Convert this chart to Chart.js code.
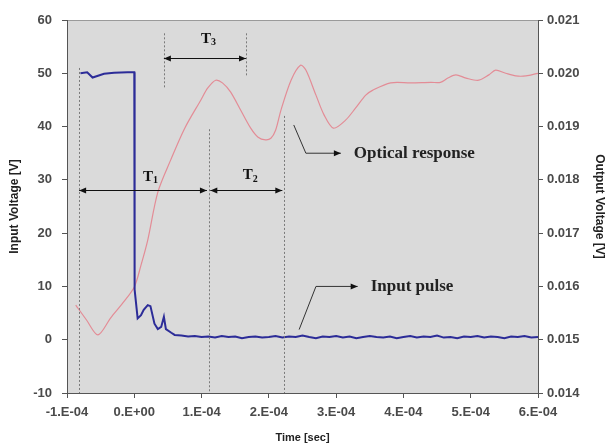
<!DOCTYPE html>
<html>
<head>
<meta charset="utf-8">
<script src="https://cdn.jsdelivr.net/npm/chart.js@4/dist/chart.umd.min.js"></script>
<style>
  html, body { margin: 0; padding: 0; background: #fff; }
  #wrap { width: 608px; height: 446px; position: relative; }
</style>
</head>
<body>
<div id="wrap"><canvas id="pulseChart"></canvas></div>
<script>
// input pulse (left axis, V) -- time in seconds
const pulseTime = [-0.80e-4, -0.70e-4, -0.62e-4, -0.55e-4, -0.45e-4, -0.30e-4, -0.10e-4, 0.00e-4, 0.005e-4,
  0.05e-4, 0.10e-4, 0.14e-4, 0.20e-4, 0.24e-4, 0.30e-4, 0.35e-4, 0.40e-4, 0.44e-4, 0.47e-4, 0.55e-4, 0.60e-4,
  0.7e-4, 0.8e-4, 0.9e-4, 1.0e-4, 1.1e-4, 1.2e-4, 1.3e-4, 1.4e-4, 1.5e-4, 1.6e-4, 1.7e-4, 1.8e-4, 1.9e-4,
  2.0e-4, 2.1e-4, 2.2e-4, 2.3e-4, 2.4e-4, 2.5e-4, 2.6e-4, 2.7e-4, 2.8e-4, 2.9e-4, 3.0e-4, 3.1e-4, 3.2e-4,
  3.3e-4, 3.4e-4, 3.5e-4, 3.6e-4, 3.7e-4, 3.8e-4, 3.9e-4, 4.0e-4, 4.1e-4, 4.2e-4, 4.3e-4, 4.4e-4, 4.5e-4,
  4.6e-4, 4.7e-4, 4.8e-4, 4.9e-4, 5.0e-4, 5.1e-4, 5.2e-4, 5.3e-4, 5.4e-4, 5.5e-4, 5.6e-4, 5.7e-4, 5.8e-4,
  5.9e-4, 6.0e-4];
const pulseVolt = [50.0, 50.2, 49.2, 49.5, 49.9, 50.1, 50.2, 50.2, 9.4,
  4.0, 4.6, 5.6, 6.5, 6.3, 3.0, 2.0, 2.4, 4.3, 2.0, 1.3, 0.9,
  0.8, 0.6, 0.7, 0.5, 0.6, 0.4, 0.7, 0.5, 0.6, 0.3, 0.5, 0.6, 0.4,
  0.5, 0.7, 0.4, 0.6, 0.5, 0.8, 0.5, 0.3, 0.6, 0.5, 0.7, 0.4, 0.6,
  0.3, 0.5, 0.7, 0.5, 0.4, 0.6, 0.3, 0.5, 0.7, 0.4, 0.6, 0.5, 0.8,
  0.4, 0.5, 0.3, 0.6, 0.5, 0.7, 0.4, 0.6, 0.5, 0.3, 0.6, 0.5, 0.7,
  0.4, 0.5];

// optical response (right axis, V)
const opticalTime = [-0.87e-4, -0.71e-4, -0.54e-4, -0.35e-4, -0.17e-4, 0.00e-4, 0.10e-4, 0.20e-4, 0.35e-4,
  0.54e-4, 0.75e-4, 0.99e-4, 1.09e-4, 1.21e-4, 1.31e-4, 1.43e-4, 1.58e-4, 1.73e-4,
  1.84e-4, 1.95e-4, 2.03e-4, 2.10e-4, 2.18e-4, 2.33e-4, 2.47e-4, 2.55e-4, 2.70e-4, 2.82e-4, 2.96e-4,
  3.14e-4, 3.29e-4, 3.44e-4, 3.54e-4, 3.81e-4, 4.11e-4, 4.41e-4, 4.55e-4, 4.66e-4, 4.78e-4, 4.93e-4,
  5.12e-4, 5.27e-4, 5.37e-4, 5.52e-4, 5.67e-4, 5.82e-4, 6.00e-4];
const opticalVolt = [0.01565, 0.01537, 0.01509, 0.01541, 0.01569, 0.01599, 0.01640, 0.01687, 0.01777,
  0.01837, 0.01897, 0.01950, 0.01972, 0.01987, 0.01982, 0.01965, 0.01931, 0.01897,
  0.01880, 0.01875, 0.01878, 0.01893, 0.01931, 0.01987, 0.02015, 0.02006, 0.01959, 0.01922, 0.01897,
  0.01912, 0.01935, 0.01959, 0.01968, 0.01982, 0.01982, 0.01983, 0.01983, 0.01991, 0.01997, 0.01991,
  0.01987, 0.01997, 0.02006, 0.02000, 0.01995, 0.01995, 0.02000];

// right axis tick labels as printed on the figure
const rightTicks = ["0.014", "0.015", "0.016", "0.017", "0.018", "0.019", "0.020", "0.021"];

// annotation geometry, in data units (time, left-axis volts)
const dottedLines = [
  [-0.82e-4, 51, -10], [0.44e-4, 57.5, 47], [1.66e-4, 57.5, 49.5],
  [1.11e-4, 39.5, -10], [2.22e-4, 42, -10]
];
const spanArrows = [
  { from: 0.44e-4, to: 1.66e-4, y: 52.8, label: "3", lx: 1.11e-4, ly: 56.5 },
  { from: -0.82e-4, to: 1.08e-4, y: 28.1, label: "1", lx: 0.25e-4, ly: 30.6 },
  { from: 1.13e-4, to: 2.20e-4, y: 28.1, label: "2", lx: 1.73e-4, ly: 30.8 }
];
const callouts = [
  { pts: [[2.37e-4, 40.3], [2.55e-4, 35], [3.07e-4, 35]], text: "Optical response" },
  { pts: [[2.45e-4, 1.9], [2.70e-4, 10], [3.32e-4, 10]], text: "Input pulse" }
];

const pulseData = pulseTime.map((t, i) => ({ x: t, y: pulseVolt[i] }));
const opticalData = opticalTime.map((t, i) => ({ x: t, y: opticalVolt[i] }));

function fmtTime(value) {
  const n = Math.round(value * 1e4);
  if (n === 0) return "0.E+00";
  return n + ".E-04";
}

function arrowHead(ctx, x, y, dir) {
  ctx.beginPath();
  ctx.moveTo(x, y);
  ctx.lineTo(x - dir * 7, y - 3);
  ctx.lineTo(x - dir * 7, y + 3);
  ctx.closePath();
  ctx.fill();
}

// grey plot background + top border
const plotBackground = {
  id: "plotBackground",
  beforeDraw(chart) {
    const { ctx, chartArea: a } = chart;
    ctx.save();
    ctx.fillStyle = "#dadada";
    ctx.fillRect(a.left, a.top, a.right - a.left, a.bottom - a.top);
    ctx.strokeStyle = "#9a9a9a";
    ctx.lineWidth = 1;
    ctx.beginPath();
    ctx.moveTo(a.left, a.top + 0.5);
    ctx.lineTo(a.right, a.top + 0.5);
    ctx.stroke();
    ctx.restore();
  }
};

// T1/T2/T3 markers and the two callouts
const annotations = {
  id: "annotations",
  afterDatasetsDraw(chart) {
    const ctx = chart.ctx;
    const xs = chart.scales.x, ys = chart.scales.y;
    const px = (t) => xs.getPixelForValue(t);
    const py = (v) => ys.getPixelForValue(v);
    ctx.save();

    ctx.strokeStyle = "#7a7a7a";
    ctx.lineWidth = 1;
    ctx.setLineDash([2, 2]);
    dottedLines.forEach(([t, v1, v2]) => {
      ctx.beginPath();
      ctx.moveTo(Math.round(px(t)) + 0.5, py(v1));
      ctx.lineTo(Math.round(px(t)) + 0.5, py(v2));
      ctx.stroke();
    });
    ctx.setLineDash([]);

    ctx.strokeStyle = "#111";
    ctx.fillStyle = "#111";
    spanArrows.forEach((a) => {
      const x1 = px(a.from), x2 = px(a.to), y = Math.round(py(a.y)) + 0.5;
      ctx.beginPath();
      ctx.moveTo(x1, y);
      ctx.lineTo(x2, y);
      ctx.stroke();
      arrowHead(ctx, x1, y, -1);
      arrowHead(ctx, x2, y, 1);
      const lx = px(a.lx), ly = py(a.ly);
      ctx.font = "bold 15px 'Liberation Serif'";
      ctx.textAlign = "right";
      ctx.textBaseline = "middle";
      ctx.fillText("T", lx + 2, ly);
      ctx.font = "bold 10px 'Liberation Serif'";
      ctx.textAlign = "left";
      ctx.fillText(a.label, lx + 2, ly + 4);
    });

    callouts.forEach((c) => {
      ctx.strokeStyle = "#333";
      ctx.beginPath();
      c.pts.forEach(([t, v], i) => {
        if (i === 0) ctx.moveTo(px(t), py(v));
        else ctx.lineTo(px(t), py(v));
      });
      ctx.stroke();
      const last = c.pts[c.pts.length - 1];
      arrowHead(ctx, px(last[0]), py(last[1]), 1);
      ctx.font = "bold 17px 'Liberation Serif'";
      ctx.textAlign = "left";
      ctx.textBaseline = "middle";
      ctx.fillStyle = "#222";
      ctx.fillText(c.text, px(last[0]) + 13, py(last[1]));
      ctx.fillStyle = "#111";
    });

    ctx.restore();
  }
};

const tickFont = { family: "'Liberation Sans', Arial, sans-serif", size: 13, weight: "bold" };
const tickColor = "#4a4a4a";

new Chart(document.getElementById("pulseChart"), {
  type: "scatter",
  data: {
    datasets: [
      {
        label: "Input pulse",
        data: pulseData,
        yAxisID: "y",
        showLine: true,
        borderColor: "#2c2c98",
        borderWidth: 2,
        pointRadius: 0,
        tension: 0
      },
      {
        label: "Optical response",
        data: opticalData,
        yAxisID: "y1",
        showLine: true,
        borderColor: "#e38c96",
        borderWidth: 1.2,
        pointRadius: 0,
        tension: 0.3
      }
    ]
  },
  options: {
    responsive: true,
    maintainAspectRatio: false,
    animation: false,
    layout: { padding: { top: 20, left: 0, right: 0, bottom: 0 } },
    plugins: { legend: { display: false }, tooltip: { enabled: false } },
    scales: {
      x: {
        type: "linear",
        min: -1e-4,
        max: 6e-4,
        afterFit: (s) => { s.height = 53; },
        afterBuildTicks: (s) => {
          s.ticks = [-1, 0, 1, 2, 3, 4, 5, 6].map((n) => ({ value: n * 1e-4 }));
        },
        ticks: { callback: fmtTime, font: tickFont, color: tickColor, padding: 7, maxRotation: 0 },
        grid: { drawOnChartArea: false, tickLength: 5, tickColor: "#555" },
        border: { color: "#555", width: 1 },
        title: {
          display: true, text: "Time [sec]", color: "#222", padding: { top: 0, bottom: 1 },
          font: { family: "'Liberation Sans', Arial, sans-serif", size: 11, weight: "bold" }
        }
      },
      y: {
        position: "left",
        min: -10,
        max: 60,
        afterFit: (s) => { s.width = 67; },
        ticks: { stepSize: 10, font: tickFont, color: tickColor, padding: 10 },
        grid: { drawOnChartArea: false, tickLength: 5, tickColor: "#555" },
        border: { color: "#555", width: 1 },
        title: {
          display: true, text: "Input Voltage [V]", color: "#222", padding: { top: 7, bottom: 0 },
          font: { family: "'Liberation Sans', Arial, sans-serif", size: 12, weight: "bold" }
        }
      },
      y1: {
        position: "right",
        min: 0.014,
        max: 0.021,
        afterFit: (s) => { s.width = 70; },
        afterBuildTicks: (s) => {
          s.ticks = rightTicks.map((t) => ({ value: parseFloat(t) }));
        },
        ticks: {
          font: tickFont, color: tickColor, padding: 4,
          callback: (v, i) => rightTicks[i]
        },
        grid: { drawOnChartArea: false, tickLength: 5, tickColor: "#555" },
        border: { color: "#555", width: 1 },
        title: {
          display: true, text: "Output Voltage [V]", color: "#222", padding: { top: 1, bottom: 0 },
          font: { family: "'Liberation Sans', Arial, sans-serif", size: 12, weight: "bold" }
        }
      }
    }
  },
  plugins: [plotBackground, annotations]
});
</script>
</body>
</html>
